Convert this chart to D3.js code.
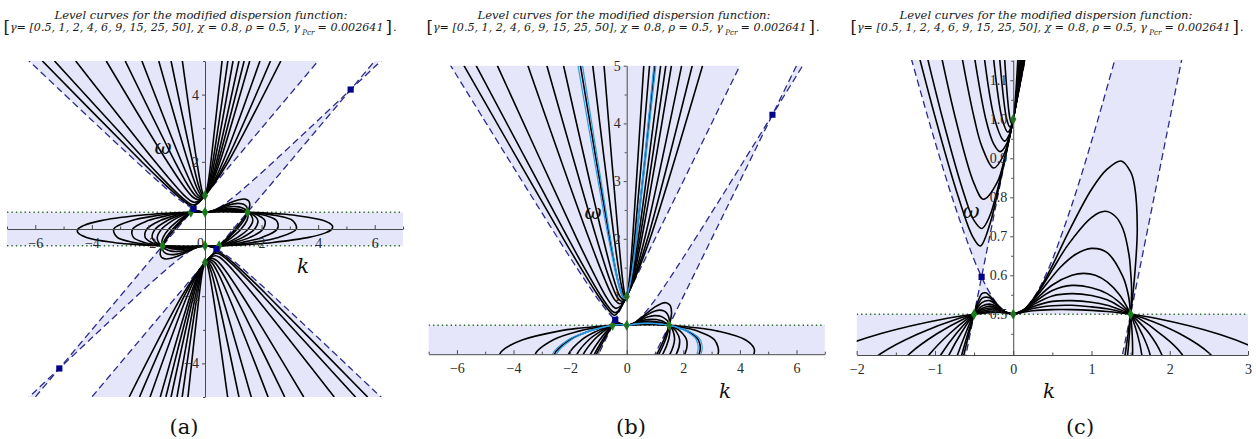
<!DOCTYPE html>
<html>
<head>
<meta charset="utf-8">
<script src="https://cdn.jsdelivr.net/npm/d3@7/dist/d3.min.js"></script>
<style>
html,body{margin:0;padding:0;background:#ffffff;}
svg{display:block;}
</style>
</head>
<body>
<svg id="chart" width="1256" height="439" viewBox="0 0 1256 439"></svg>
<script>
// ================= DATA =================
const gammaValues = [0.5, 1, 2, 4, 6, 9, 15, 25, 50];
const chiValue = 0.8, rhoValue = 0.5, gammaPcr = 0.002641;
const titleMain = "Level curves for the modified dispersion function:";
const panelCaptions = ["(a)", "(b)", "(c)"];

// dashed boundary curve (upper branch, lower branch is its point reflection)
const hyperbolaK = [-7.5,-7,-6,-5.15,-5,-4,-3,-2,-1.5,-1.25,-1,-0.75,-0.5,-0.404,-0.375,-0.25,-0.125,0,0.125,0.25,0.375,0.404,0.5,0.75,1,1.25,1.5,2,3,4,5,5.15,6,7,7.5];
const hyperbolaW = [6.02,5.622,4.826,4.15,4.031,3.239,2.452,1.676,1.3,1.118,0.943,0.781,0.64,0.596,0.583,0.539,0.51,0.5,0.51,0.539,0.583,0.596,0.64,0.781,0.943,1.118,1.3,1.676,2.452,3.239,4.031,4.15,4.826,5.622,6.02];
// dashed straight lines  w = k + offset
const lineOffsets = [1, -1];
const dottedLevels = [0.5, -0.5];

// level curves, one per gamma (upper half; lower half is the point reflection)
const fanCurves = [
 [[-5.75,5],[-2.235,2],[-1.63,1.5],[-0.99,1],[-0.7,0.8],[-0.52,0.7],[-0.42,0.675],[-0.3,0.73],[-0.2,0.811],[-0.1,0.903],[0,1],[0.28,1.3],[0.823,2],[2.68,5]],
 [[-5.32,5],[-2.06,2],[-1.5,1.5],[-0.9,1],[-0.615,0.8],[-0.5,0.74],[-0.4,0.72],[-0.3,0.752],[-0.2,0.821],[-0.1,0.905],[0,1],[0.265,1.3],[0.736,2],[2.315,5]],
 [[-4.57,5],[-1.76,2],[-1.0,1.24],[-0.735,1],[-0.5,0.835],[-0.38,0.795],[-0.2,0.84],[-0.1,0.91],[0,1],[0.241,1.3],[0.634,2],[1.942,5]],
 [[-3.49,5],[-1.33,2],[-0.7,1.21],[-0.495,1],[-0.4,0.93],[-0.25,0.875],[-0.12,0.909],[0,1],[0.212,1.3],[0.528,2],[1.581,5]],
 [[-2.82,5],[-1.06,2],[-0.6,1.295],[-0.35,1],[-0.25,0.937],[-0.167,0.917],[-0.08,0.939],[0,1],[0.193,1.3],[0.465,2],[1.383,5]],
 [[-2.23,5],[-0.83,2],[-0.45,1.29],[-0.237,1],[-0.11,0.944],[-0.05,0.961],[0,1],[0.172,1.3],[0.407,2],[1.2,5]],
 [[-1.635,5],[-0.6,2],[-0.3,1.25],[-0.14,1],[-0.067,0.967],[0,1],[0.147,1.3],[0.339,2],[0.99,5]],
 [[-1.2,5],[-0.438,2],[-0.2,1.22],[-0.083,1],[-0.04,0.98],[0,1],[0.124,1.3],[0.278,2],[0.807,5]],
 [[-0.8,5],[-0.289,2],[-0.1,1.125],[-0.04,1],[-0.02,0.99],[0,1],[0.095,1.3],[0.209,2],[0.603,5]]
];
const bigHumpCurves = [
 [[0,0.5],[0.15,0.514],[0.3,0.552],[0.5,0.625],[0.7,0.708],[1.0,0.82],[1.2,0.872],[1.38,0.893],[1.5,0.865],[1.55,0.83],[1.585,0.72],[1.55,0.595],[1.5,0.5]],
 [[0,0.5],[0.15,0.514],[0.3,0.55],[0.5,0.614],[0.7,0.678],[1.0,0.748],[1.17,0.764],[1.3,0.752],[1.4,0.72],[1.48,0.652],[1.5,0.61],[1.513,0.56],[1.5,0.5]],
 [[0,0.5],[0.15,0.513],[0.3,0.546],[0.6,0.62],[0.8,0.654],[1.0,0.669],[1.2,0.658],[1.4,0.597],[1.47,0.55],[1.5,0.5]],
 [[0,0.5],[0.1,0.506],[0.25,0.531],[0.5,0.575],[0.75,0.6],[0.9,0.605],[1.05,0.6],[1.2,0.583],[1.35,0.552],[1.45,0.52],[1.5,0.5]],
 [[0,0.5],[0.1,0.506],[0.25,0.528],[0.5,0.561],[0.75,0.574],[1.0,0.568],[1.2,0.553],[1.35,0.532],[1.45,0.512],[1.5,0.5]],
 [[0,0.5],[0.1,0.5057],[0.25,0.524],[0.5,0.547],[0.75,0.553],[1.0,0.548],[1.2,0.537],[1.35,0.521],[1.45,0.508],[1.5,0.5]],
 [[0,0.5],[0.1,0.5054],[0.25,0.519],[0.5,0.533],[0.75,0.535],[1.0,0.531],[1.2,0.523],[1.35,0.513],[1.45,0.505],[1.5,0.5]],
 [[0,0.5],[0.1,0.5049],[0.25,0.515],[0.5,0.522],[0.75,0.523],[1.0,0.519],[1.2,0.514],[1.35,0.508],[1.45,0.503],[1.5,0.5]],
 [[0,0.5],[0.1,0.504],[0.25,0.509],[0.5,0.512],[0.75,0.512],[1.0,0.51],[1.2,0.507],[1.35,0.504],[1.45,0.5015],[1.5,0.5]]
];
const smallHumpCurves = [
 [[-0.5,0.5],[-0.465,0.525],[-0.43,0.543],[-0.4,0.553],[-0.35,0.555],[-0.3,0.547],[-0.2,0.524],[-0.1,0.506],[0,0.5]],
 [[-0.5,0.5],[-0.45,0.525],[-0.4,0.541],[-0.35,0.544],[-0.3,0.542],[-0.2,0.523],[-0.1,0.506],[0,0.5]],
 [[-0.5,0.5],[-0.45,0.518],[-0.4,0.53],[-0.3,0.535],[-0.2,0.5215],[-0.1,0.506],[0,0.5]],
 [[-0.5,0.5],[-0.45,0.511],[-0.4,0.521],[-0.3,0.526],[-0.2,0.519],[-0.1,0.506],[0,0.5]],
 [[-0.5,0.5],[-0.45,0.508],[-0.4,0.515],[-0.3,0.521],[-0.2,0.516],[-0.1,0.5058],[0,0.5]],
 [[-0.5,0.5],[-0.45,0.506],[-0.4,0.511],[-0.3,0.516],[-0.2,0.514],[-0.1,0.5055],[0,0.5]],
 [[-0.5,0.5],[-0.45,0.504],[-0.4,0.507],[-0.3,0.512],[-0.2,0.5115],[-0.1,0.505],[0,0.5]],
 [[-0.5,0.5],[-0.45,0.5024],[-0.4,0.5045],[-0.3,0.5078],[-0.2,0.5085],[-0.1,0.5045],[0,0.5]],
 [[-0.5,0.5],[-0.45,0.5012],[-0.4,0.5024],[-0.3,0.5043],[-0.2,0.5052],[-0.1,0.5036],[0,0.5]]
];
const bandLoopCurves = [
 [[-0.5,0.5],[-0.565,0.45],[-0.626,0.4],[-0.8,0.25],[-1.07,0],[-1.311,-0.25],[-1.4325,-0.4],[-1.468,-0.45],[-1.5,-0.5]],
 [[-0.5,0.5],[-0.58,0.45],[-0.652,0.4],[-0.85,0.25],[-1.14,0],[-1.37,-0.25],[-1.464,-0.4],[-1.485,-0.45],[-1.5,-0.5]],
 [[-0.5,0.5],[-0.526,0.49],[-0.61,0.45],[-0.704,0.4],[-0.95,0.25],[-1.277,0],[-1.48,-0.25],[-1.525,-0.4],[-1.52,-0.45],[-1.5,-0.5]],
 [[-0.5,0.5],[-0.54,0.49],[-0.67,0.45],[-0.81,0.4],[-1.15,0.25],[-1.529,0],[-1.69,-0.25],[-1.64,-0.4],[-1.585,-0.45],[-1.521,-0.49],[-1.5,-0.5]],
 [[-0.5,0.5],[-0.553,0.49],[-0.73,0.45],[-0.912,0.4],[-1.335,0.25],[-1.755,0],[-1.87,-0.25],[-1.744,-0.4],[-1.645,-0.45],[-1.535,-0.49],[-1.5,-0.5]],
 [[-0.5,0.5],[-0.575,0.49],[-0.815,0.45],[-1.058,0.4],[-1.59,0.25],[-2.054,0],[-2.115,-0.25],[-1.89,-0.4],[-1.74,-0.45],[-1.557,-0.49],[-1.5,-0.5]],
 [[-0.5,0.5],[-0.616,0.49],[-0.975,0.45],[-1.318,0.4],[-2.01,0.25],[-2.555,0],[-2.53,-0.25],[-2.146,-0.4],[-1.88,-0.45],[-1.6,-0.49],[-1.5,-0.5]],
 [[-0.5,0.5],[-0.69,0.49],[-1.21,0.45],[-1.685,0.4],[-2.59,0.25],[-3.227,0],[-3.1,-0.25],[-2.505,-0.4],[-2.13,-0.45],[-1.67,-0.49],[-1.5,-0.5]],
 [[-0.5,0.5],[-0.84,0.49],[-1.7,0.45],[-2.4,0.4],[-3.67,0.25],[-4.3,0.1],[-4.49,0],[-4.5,-0.1],[-4.19,-0.25],[-3.22,-0.4],[-2.61,-0.45],[-1.82,-0.49],[-1.5,-0.5]]
];
// light-blue extra level curves shown only in panel (b)
const blueFanCurves = [
 [[-1.72,5],[-0.64,2],[-0.32,1.26],[-0.15,1],[-0.072,0.964],[0,1],[0.152,1.3],[0.352,2],[1.03,5]],
 [[-1.56,5],[-0.57,2],[-0.29,1.25],[-0.133,1],[-0.062,0.969],[0,1],[0.142,1.3],[0.328,2],[0.96,5]]
];
const blueBigHumpCurves = [
 [[0,0.5],[0.1,0.5055],[0.25,0.5205],[0.5,0.5355],[0.75,0.5375],[1.0,0.533],[1.2,0.5245],[1.35,0.514],[1.45,0.5055],[1.5,0.5]],
 [[0,0.5],[0.1,0.5053],[0.25,0.518],[0.5,0.531],[0.75,0.533],[1.0,0.529],[1.2,0.5215],[1.35,0.512],[1.45,0.5045],[1.5,0.5]]
];
const blueSmallHumpCurves = [
 [[-0.5,0.5],[-0.45,0.5043],[-0.4,0.5075],[-0.3,0.5125],[-0.2,0.512],[-0.1,0.5051],[0,0.5]],
 [[-0.5,0.5],[-0.45,0.5037],[-0.4,0.5065],[-0.3,0.5115],[-0.2,0.511],[-0.1,0.5049],[0,0.5]]
];
const blueLoopCurves = [
 [[-0.5,0.5],[-0.63,0.49],[-1.0,0.45],[-1.35,0.4],[-2.07,0.25],[-2.62,0],[-2.6,-0.25],[-2.2,-0.4],[-1.91,-0.45],[-1.61,-0.49],[-1.5,-0.5]],
 [[-0.5,0.5],[-0.605,0.49],[-0.95,0.45],[-1.29,0.4],[-1.95,0.25],[-2.48,0],[-2.46,-0.25],[-2.1,-0.4],[-1.85,-0.45],[-1.59,-0.49],[-1.5,-0.5]]
];
const greenPoints = [[0,1],[-0.5,0.5],[0,0.5],[1.5,0.5]];
const bluePoints = [[5.15,4.15],[-0.404,0.596]];

// tick values
const xMajorWide = [-6,-4,-2,0,2,4,6];
const xMinorWide = [-7,-5,-3,-1,1,3,5,7];
const yMajorA = [-4,-2,2,4];
const yMinorA = [-5,-3,-1,1,3,5];
const yMajorB = [1,2,3,4,5];
const yMinorB = [0.5,1.5,2.5,3.5,4.5];
const xMajorC = [-2,-1,0,1,2,3];
const xMinorC = [-1.5,-0.5,0.5,1.5,2.5];
const yMajorC = [0.5,0.6,0.7,0.8,0.9,1.0,1.1];
const yMinorC = [0.45,0.55,0.65,0.75,0.85,0.95,1.05,1.15];

// ================= LAYOUT / STYLE =================
const shadeColor = "#e6e6fa";
const dashColor = "#2a2a8c";
const curveColor = "#000000";
const blueCurveColor = "#2e9be6";
const dotColor = "#2f6a2f";
const greenColor = "#1b7d1b";
const squareColor = "#00008b";
const axisColor = "#4a4a4a";
const labelColor = "#2a2a2a";

const panels = [
 {kDom:[-7,7], wDom:[-5,5], px:[7,403], py:[397,61], xAxisAt:0, xMajor:xMajorWide, xMinor:xMinorWide, yMajor:yMajorA, yMinor:yMinorA,
  xFmt:d3.format("d"), yFmt:d3.format("d"), title1X:201, title2X:200, cap:[184,434], kLab:[303,273], wLab:[163,154], blue:false},
 {kDom:[-7,7], wDom:[0,5], px:[428.6,824.8], py:[354.2,65.7], xAxisAt:0, xMajor:xMajorWide, xMinor:xMinorWide, yMajor:yMajorB, yMinor:yMinorB,
  xFmt:d3.format("d"), yFmt:d3.format("d"), title1X:624, title2X:623, cap:[631,434], kLab:[725,398], wLab:[593,219], blue:true},
 {kDom:[-2,3], wDom:[0.3956,1.152], px:[856.7,1248], py:[355,60], xAxisAt:0.3956, xMajor:xMajorC, xMinor:xMinorC, yMajor:yMajorC, yMinor:yMinorC,
  xFmt:d3.format("d"), yFmt:d3.format(".1f"), title1X:1046, title2X:1047, cap:[1080,434], kLab:[1049,398], wLab:[971,218], blue:false}
];

const svg = d3.select("#chart");
const defs = svg.append("defs");
const mirror = arr => arr.map(([k,w]) => [-k,-w]);

// shading polygons derived from the dashed boundaries
const hyp = hyperbolaK.map((k,i) => [k, hyperbolaW[i]]);
const apexK = -0.404;
const leftBranch = hyp.filter(p => p[0] <= apexK).reverse();
const rightBranch = hyp.filter(p => p[0] >= apexK);
const wedgePoly = [...leftBranch, [-7.5,9], [8,9]];
const stripPoly = [[-0.5,0.5], ...rightBranch, [7.5,6.5], [1.5,0.5]];
const bandPoly = [[-8,-0.5], [-1.5,-0.5], [-0.5,0.5], [-8,0.5]];
const shadePolys = [wedgePoly, stripPoly, bandPoly, mirror(wedgePoly), mirror(stripPoly), mirror(bandPoly)];

const blackFamilies = [fanCurves, bigHumpCurves, smallHumpCurves, bandLoopCurves];
const blueFamilies = [blueFanCurves, blueBigHumpCurves, blueSmallHumpCurves, blueLoopCurves];

function drawTitle(x1, x2) {
  const g = svg.append("g").attr("fill", "#1a1a1a").attr("font-family", "'DejaVu Serif', serif").attr("font-style", "italic");
  g.append("text").attr("x", x1).attr("y", 19).attr("text-anchor", "middle").attr("font-size", 11.5)
    .attr("textLength", 293).attr("lengthAdjust", "spacingAndGlyphs").text(titleMain);
  // second line laid out piece by piece, then scaled horizontally to the reference width
  const pieces = [
    {t: "[", size: 17, upright: true, dy: 2, gap: 0},
    {t: `γ= [${gammaValues.join(", ")}], χ = ${chiValue}, ρ = ${rhoValue}, γ`, size: 11.5, dy: 0, gap: 0},
    {t: "Pcr", size: 7.5, dy: 4, gap: 2},
    {t: `= ${gammaPcr}`, size: 11.5, dy: 0, gap: 3},
    {t: "]", size: 17, upright: true, dy: 2, gap: 2},
    {t: ".", size: 11.5, dy: 0, gap: 1}
  ];
  const grp = g.append("g");
  let x = 0;
  pieces.forEach(p => {
    x += p.gap;
    const el = grp.append("text").attr("x", x).attr("y", 31 + p.dy).attr("font-size", p.size)
      .attr("font-style", p.upright ? "normal" : "italic").text(p.t);
    x += el.node().getComputedTextLength();
  });
  const target = 393;
  grp.attr("transform", `translate(${x2 - target / 2},0) scale(${target / x},1)`);
}

panels.forEach((P, i) => {
  const xs = d3.scaleLinear().domain(P.kDom).range(P.px);
  const ys = d3.scaleLinear().domain(P.wDom).range(P.py);
  const clipId = "clip" + i;
  defs.append("clipPath").attr("id", clipId).append("rect")
    .attr("x", P.px[0]).attr("y", P.py[1]).attr("width", P.px[1] - P.px[0]).attr("height", P.py[0] - P.py[1]);

  const g = svg.append("g");
  const plot = g.append("g").attr("clip-path", `url(#${clipId})`);
  const lin = d3.line().x(d => xs(d[0])).y(d => ys(d[1]));
  const smooth = d3.line().x(d => xs(d[0])).y(d => ys(d[1])).curve(d3.curveCatmullRom.alpha(0.5));

  // shaded regions
  shadePolys.forEach(poly => plot.append("path").attr("d", lin(poly) + "Z").attr("fill", shadeColor).attr("stroke", "none"));

  // dotted horizontal levels
  dottedLevels.forEach(w => plot.append("path").attr("d", lin([[P.kDom[0], w], [P.kDom[1], w]]))
    .attr("stroke", dotColor).attr("stroke-width", 1.5).attr("stroke-dasharray", "1.4,3").attr("fill", "none"));

  // axes
  const xAxisG = g.append("g").attr("transform", `translate(0,${ys(P.xAxisAt)})`)
    .call(d3.axisBottom(xs).tickValues(P.xMajor).tickFormat(P.xFmt).tickSizeInner(-4).tickSizeOuter(0).tickPadding(9));
  g.append("g").attr("transform", `translate(0,${ys(P.xAxisAt)})`)
    .call(d3.axisBottom(xs).tickValues(P.xMinor).tickFormat("").tickSizeInner(-2.5).tickSizeOuter(0))
    .call(s => s.select(".domain").remove());
  g.append("g").attr("transform", `translate(${xs(0)},0)`)
    .call(d3.axisLeft(ys).tickValues(P.yMajor).tickFormat(P.yFmt).tickSizeInner(3).tickSizeOuter(0).tickPadding(3));
  g.append("g").attr("transform", `translate(${xs(0)},0)`)
    .call(d3.axisLeft(ys).tickValues(P.yMinor).tickFormat("").tickSizeInner(2).tickSizeOuter(0))
    .call(s => s.select(".domain").remove());
  g.selectAll(".domain").attr("stroke", axisColor).attr("stroke-width", 1);
  g.selectAll(".tick line").attr("stroke", axisColor);
  g.selectAll(".tick text").attr("fill", labelColor).attr("font-family", "'Liberation Serif', 'Times New Roman', serif").attr("font-size", 14);
  if (i === 0) xAxisG.selectAll(".tick").filter(d => d === 0).select("text").attr("x", -5);

  // dashed boundaries
  [hyp, mirror(hyp)].forEach(c => plot.append("path").attr("d", smooth(c)).attr("fill", "none")
    .attr("stroke", dashColor).attr("stroke-width", 1.3).attr("stroke-dasharray", "7,4"));
  lineOffsets.forEach(o => plot.append("path").attr("d", lin([[-9, -9 + o], [9, 9 + o]])).attr("fill", "none")
    .attr("stroke", dashColor).attr("stroke-width", 1.3).attr("stroke-dasharray", "7,4"));

  // level curves
  blackFamilies.forEach(fam => fam.forEach(c => {
    [c, mirror(c)].forEach(cc => plot.append("path").attr("d", smooth(cc)).attr("fill", "none")
      .attr("stroke", curveColor).attr("stroke-width", 1.6).attr("stroke-linejoin", "round"));
  }));
  if (P.blue) {
    blueFamilies.forEach(fam => fam.forEach(c => {
      [c, mirror(c)].forEach(cc => plot.append("path").attr("d", smooth(cc)).attr("fill", "none")
        .attr("stroke", blueCurveColor).attr("stroke-width", 1.2));
    }));
  }

  // special points
  const diamond = d3.symbol(d3.symbolDiamond, 34);
  const square = d3.symbol(d3.symbolSquare, 38);
  [...greenPoints, ...mirror(greenPoints)].forEach(p => plot.append("path").attr("d", diamond())
    .attr("transform", `translate(${xs(p[0])},${ys(p[1])})`).attr("fill", greenColor));
  [...bluePoints, ...mirror(bluePoints)].forEach(p => plot.append("path").attr("d", square())
    .attr("transform", `translate(${xs(p[0])},${ys(p[1])})`).attr("fill", squareColor));

  // axis names
  g.append("text").attr("x", P.kLab[0]).attr("y", P.kLab[1]).attr("text-anchor", "middle")
    .attr("font-family", "'DejaVu Serif', serif").attr("font-style", "italic").attr("font-size", 20).attr("fill", "#111").text("k");
  g.append("text").attr("x", P.wLab[0]).attr("y", P.wLab[1]).attr("text-anchor", "middle")
    .attr("font-family", "'DejaVu Serif', serif").attr("font-style", "italic").attr("font-size", 21).attr("fill", "#111").text("ω");

  // caption
  svg.append("text").attr("x", P.cap[0]).attr("y", P.cap[1]).attr("text-anchor", "middle")
    .attr("font-family", "'DejaVu Serif', serif").attr("font-size", 21).attr("fill", "#111").text(panelCaptions[i]);

  drawTitle(P.title1X, P.title2X);
});
</script>
</body>
</html>
